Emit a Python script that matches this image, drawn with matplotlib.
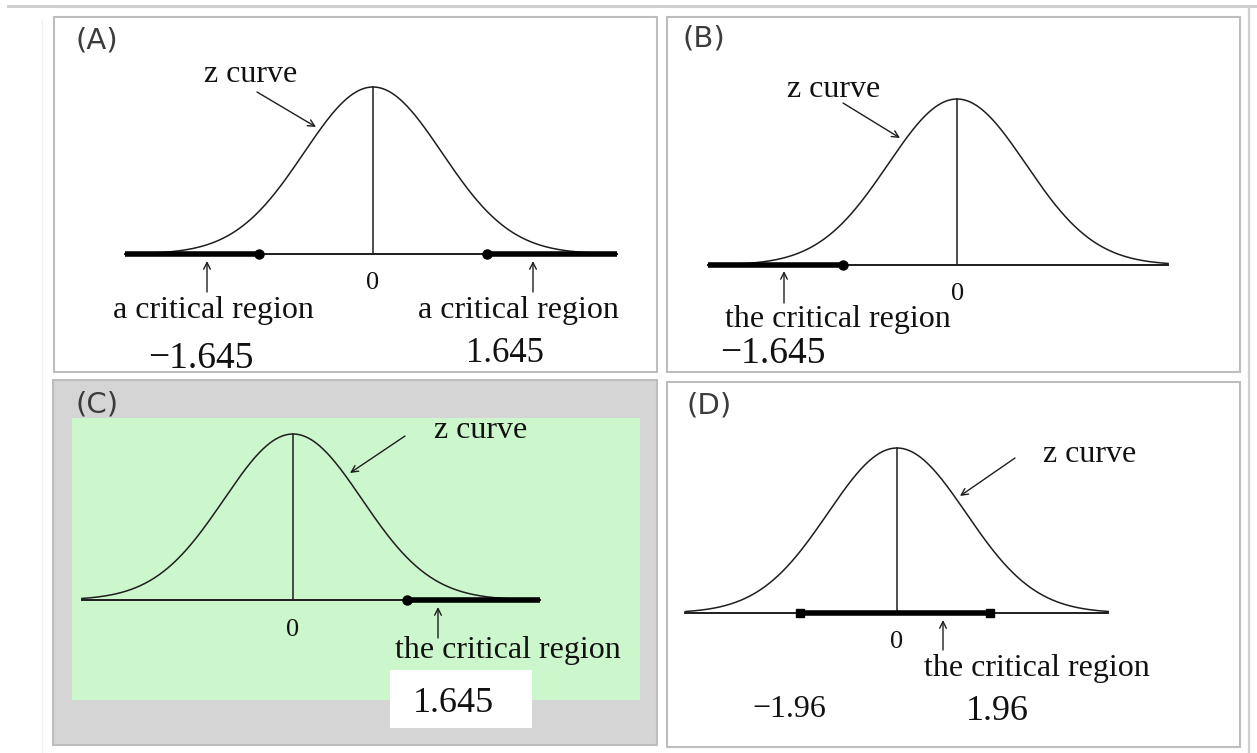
import matplotlib
matplotlib.use("Agg")
import matplotlib.pyplot as plt
from matplotlib.patches import Rectangle
import numpy as np

# ---------------------------------------------------------------------------
# z curves with critical regions, four panels (A)-(D)
# ---------------------------------------------------------------------------

panels = ["A", "B", "C", "D"]

# baseline extent in z units, per panel
base_lo = [-3.59, -3.61, -3.06, -3.07]
base_hi = [3.54, 3.06, 3.58, 3.06]

# critical regions (z from, z to), per panel
regions_A = [(-3.59, -1.645), (1.645, 3.54)]
regions_B = [(-3.61, -1.645)]
regions_C = [(1.645, 3.58)]
regions_D = [(-1.40, 1.35)]
regions = [regions_A, regions_B, regions_C, regions_D]

# end markers of the regions
ends_A = [-1.645, 1.645]
ends_B = [-1.645]
ends_C = [1.645]
ends_D = [-1.40, 1.35]
ends = [ends_A, ends_B, ends_C, ends_D]
end_marker = ["o", "o", "o", "s"]

# text
region_text = ["a critical region", "the critical region",
               "the critical region", "the critical region"]
crit_labels_A = ["\u22121.645", "1.645"]
crit_labels_B = ["\u22121.645"]
crit_labels_C = ["1.645"]
crit_labels_D = ["\u22121.96", "1.96"]

# ── layout (pixels of the 1257x753 canvas) ────────────────────────────────
W, H = 1257, 753
SD_PX = 69
centre_px = [373, 957, 293, 897]
base_px = [254, 265, 600, 613]
peak_px = [87, 99, 434, 448]

INK = "#1e1e1e"
SERIF = ["Liberation Serif", "DejaVu Serif"]

fig = plt.figure(figsize=(W / 100, H / 100), dpi=100)
fig.patch.set_facecolor("white")

bg = fig.add_axes([0, 0, 1, 1])
bg.set_xlim(0, W)
bg.set_ylim(H, 0)
bg.axis("off")

# page lines
bg.plot([8, W], [6, 6], color="#cfcfcf", lw=2.2)
bg.plot([1249, 1249], [6, H], color="#cfcfcf", lw=1.6)
bg.plot([42, 42], [20, H], color="#f0f0f0", lw=1.0)

# panel frames
frames = [(54, 17, 603, 355), (667, 17, 573, 355),
          (53, 380, 604, 365), (667, 382, 573, 365)]
for i, (x0, y0, w, h) in enumerate(frames):
    fc = "#d5d5d5" if i == 2 else "white"
    bg.add_patch(Rectangle((x0, y0), w, h, facecolor=fc,
                           edgecolor="#bdbdbd", lw=1.5))
# green area and white number box of panel C
bg.add_patch(Rectangle((72, 418), 568, 282, facecolor="#ccf7cc", edgecolor="none"))
bg.add_patch(Rectangle((390, 670), 142, 58, facecolor="white", edgecolor="none"))

# panel letters
for lab, (x, y) in zip(panels, [(97, 40), (704, 38), (97, 404), (709, 405)]):
    bg.text(x, y, f"({lab})", ha="center", va="center", fontsize=21,
            color="#3c3c3c", family="DejaVu Sans")

# ── curves ────────────────────────────────────────────────────────────────
pdf0 = 1 / np.sqrt(2 * np.pi)
for i in range(4):
    cx, bpx, ppx = centre_px[i], base_px[i], peak_px[i]
    ax = fig.add_axes([(cx - 4 * SD_PX) / W, 1 - bpx / H,
                       8 * SD_PX / W, (bpx - ppx) / H])
    ax.set_xlim(-4, 4)
    ax.set_ylim(0, pdf0)
    ax.axis("off")
    ax.patch.set_alpha(0)

    z = np.linspace(base_lo[i], base_hi[i], 500)
    ax.plot(z, np.exp(-z ** 2 / 2) / np.sqrt(2 * np.pi), color=INK, lw=1.1,
            clip_on=False)
    ax.plot([base_lo[i], base_hi[i]], [0, 0], color=INK, lw=1.4, clip_on=False)
    ax.plot([0, 0], [0, pdf0], color=INK, lw=1.1, clip_on=False)
    for a, b in regions[i]:
        ax.plot([a, b], [0, 0], color="black", lw=4.0, solid_capstyle="butt",
                clip_on=False)
    ax.plot(ends[i], [0] * len(ends[i]), end_marker[i], color="black",
            ms=6.5 if end_marker[i] == "o" else 6, clip_on=False)

# ── annotations ───────────────────────────────────────────────────────────
def arrow(tail, tip):
    bg.annotate("", xy=tip, xytext=tail,
                arrowprops=dict(arrowstyle="->", lw=1.0, color=INK,
                                shrinkA=0, shrinkB=0, mutation_scale=12))


def label(x, y, s, size):
    bg.text(x, y, s, ha="center", va="baseline", fontsize=size,
            color="#111111", family=SERIF)


# (A)
label(251, 82, "z curve", 23)
arrow((257, 92), (316, 127))
label(373, 289, "0", 19)
arrow((207, 292), (207, 261))
arrow((533, 292), (533, 261))
label(213, 318, region_text[0], 23)
label(518, 318, region_text[0], 23)
label(201, 368, crit_labels_A[0], 27)
label(505, 362, crit_labels_A[1], 25)

# (B)
label(834, 97, "z curve", 23)
arrow((843, 103), (900, 138))
label(958, 300, "0", 19)
arrow((784, 303), (784, 271))
label(838, 327, region_text[1], 23)
label(773, 363, crit_labels_B[0], 27)

# (C)
label(481, 438, "z curve", 23)
arrow((405, 436), (350, 473))
label(293, 636, "0", 19)
arrow((438, 638), (438, 607))
label(508, 658, region_text[2], 23)
label(453, 712, crit_labels_C[0], 26)

# (D)
label(1090, 462, "z curve", 23)
arrow((1015, 458), (960, 496))
label(897, 648, "0", 19)
arrow((943, 650), (943, 620))
label(1037, 676, region_text[3], 23)
label(789, 717, crit_labels_D[0], 23)
label(997, 720, crit_labels_D[1], 26)

fig.savefig("out.png", dpi=100)
